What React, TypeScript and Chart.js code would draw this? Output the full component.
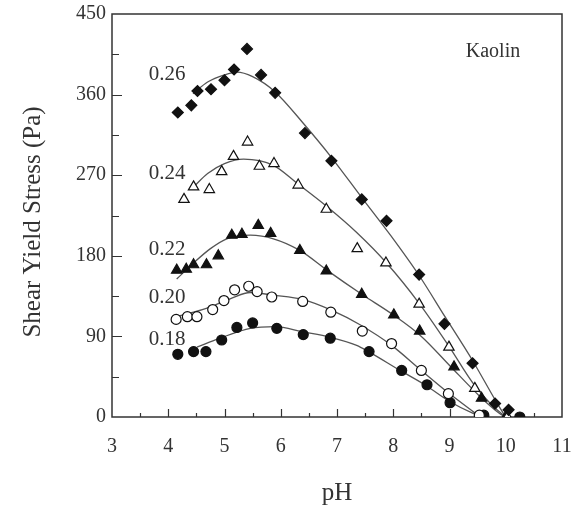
import React, { useEffect, useRef } from "react";
import { Chart, registerables } from "chart.js";

Chart.register(...registerables);

// Measured points (pH, shear yield stress in Pa)
const pH26 = [4.17, 4.41, 4.52, 4.76, 5.0, 5.17, 5.4, 5.65, 5.9, 6.43, 6.9, 7.44, 7.88, 8.46, 8.91, 9.41, 9.81, 10.05];
const tau26 = [340, 348, 364, 366, 376, 388, 411, 382, 362, 317, 286, 243, 219, 159, 104, 60, 15, 8];

const pH24 = [4.28, 4.45, 4.73, 4.95, 5.16, 5.41, 5.62, 5.88, 6.31, 6.81, 7.36, 7.87, 8.46, 8.99, 9.45, 10.03];
const tau24 = [243, 257, 254, 274, 291, 307, 280, 283, 259, 232, 188, 172, 126, 78, 32, 0];

const pH22 = [4.15, 4.32, 4.45, 4.68, 4.89, 5.13, 5.31, 5.6, 5.82, 6.34, 6.81, 7.44, 8.01, 8.47, 9.08, 9.57, 10.0];
const tau22 = [164, 165, 170, 170, 180, 203, 204, 214, 205, 186, 163, 137, 114, 96, 56, 21, 0];

const pH20 = [4.14, 4.34, 4.51, 4.79, 4.99, 5.18, 5.43, 5.58, 5.84, 6.39, 6.89, 7.45, 7.97, 8.5, 8.98, 9.53];
const tau20 = [109, 112, 112, 120, 130, 142, 146, 140, 134, 129, 117, 96, 82, 52, 26, 2];

const pH18 = [4.17, 4.45, 4.67, 4.95, 5.22, 5.5, 5.93, 6.4, 6.88, 7.57, 8.15, 8.6, 9.01, 9.61, 10.25];
const tau18 = [70, 73, 73, 86, 100, 105, 99, 92, 88, 73, 52, 36, 16, 2, 0];

// Fitted curves
const fitPH26 = [4.44, 4.7, 5.0, 5.22, 5.5, 5.9, 6.4, 6.9, 7.44, 7.95, 8.46, 8.92, 9.42, 9.85, 10.0];
const fitTau26 = [361, 374, 382, 385, 380, 363, 328, 290, 245, 203, 158, 112, 62, 15, 0];

const fitPH24 = [4.45, 4.7, 5.0, 5.34, 5.87, 6.29, 6.82, 7.35, 7.88, 8.46, 8.98, 9.45, 9.96, 10.02];
const fitTau24 = [257, 272, 283, 288, 281, 261, 235, 206, 172, 127, 80, 35, 2, 0];

const fitPH22 = [4.15, 4.45, 4.75, 5.04, 5.46, 5.87, 6.34, 6.82, 7.44, 8.0, 8.5, 9.01, 9.54, 9.89, 10.0];
const fitTau22 = [154, 172, 188, 199, 203, 199, 186, 164, 137, 114, 90, 57, 23, 4, 0];

const fitPH20 = [4.15, 4.45, 4.75, 5.1, 5.46, 5.87, 6.4, 6.91, 7.41, 7.97, 8.48, 8.98, 9.42, 9.55];
const fitTau20 = [112, 117, 123, 132, 139, 136, 131, 119, 103, 80, 53, 27, 6, 0];

const fitPH18 = [4.51, 4.92, 5.46, 5.9, 6.4, 6.88, 7.35, 7.56, 8.12, 8.56, 9.01, 9.42, 9.6];
const fitTau18 = [78, 88, 99, 101, 95, 89, 80, 73, 52, 36, 17, 4, 0];

const seriesLabels = ["0.26", "0.24", "0.22", "0.20", "0.18"];
const labelPH = 3.98;
const labelTau = [382, 272, 186.5, 133, 86];

const xMin = 3, xMax = 11, xStep = 1;
const yMin = 0, yMax = 450, yStep = 90;

const xTitle = "pH";
const yTitle = "Shear Yield Stress (Pa)";
const panelTitle = "Kaolin";

const toPts = (xs: number[], ys: number[]) => xs.map((x, i) => ({ x, y: ys[i] }));

const INK = "#111";
const TEXT = "#333";
const SERIF = "'Liberation Serif', 'Times New Roman', serif";

const markerSet = (
  data: { x: number; y: number }[],
  style: string,
  filled: boolean,
  radius: number
) => ({
  type: "scatter" as const,
  data,
  showLine: false,
  pointStyle: style,
  pointRadius: radius,
  pointHoverRadius: radius,
  pointBackgroundColor: filled ? INK : "#fff",
  pointBorderColor: INK,
  pointBorderWidth: 1.2,
  order: 1,
});

const curveSet = (data: { x: number; y: number }[]) => ({
  type: "scatter" as const,
  data,
  showLine: true,
  pointRadius: 0,
  pointHoverRadius: 0,
  borderColor: "#555",
  borderWidth: 1.3,
  cubicInterpolationMode: "monotone" as const,
  fill: false,
  order: 2,
});

const framePlugin = {
  id: "frame",
  beforeDatasetsDraw(chart: any) {
    const { ctx, chartArea: a, scales } = chart;
    const x = scales.x, y = scales.y;
    ctx.save();
    ctx.strokeStyle = "#333";
    ctx.lineWidth = 1.5;
    ctx.strokeRect(a.left, a.top, a.right - a.left, a.bottom - a.top);
    ctx.lineWidth = 1.2;
    ctx.beginPath();
    for (let v = xMin + 0.5; v < xMax; v += 0.5) {
      const px = Math.round(x.getPixelForValue(v)) + 0.5;
      const len = Number.isInteger(v) ? 8 : 4;
      ctx.moveTo(px, a.bottom);
      ctx.lineTo(px, a.bottom - len);
    }
    for (let v = yMin + yStep / 2; v < yMax; v += yStep / 2) {
      const py = Math.round(y.getPixelForValue(v)) + 0.5;
      const len = v % yStep === 0 ? 10 : 7;
      ctx.moveTo(a.left, py);
      ctx.lineTo(a.left + len, py);
    }
    ctx.stroke();
    ctx.restore();
  },
  afterDraw(chart: any) {
    const { ctx, chartArea: a, scales } = chart;
    const x = scales.x, y = scales.y;
    ctx.save();
    ctx.fillStyle = TEXT;
    ctx.textAlign = "center";
    ctx.textBaseline = "middle";
    ctx.font = `21px ${SERIF}`;
    seriesLabels.forEach((t, i) => {
      ctx.fillText(t, x.getPixelForValue(labelPH), y.getPixelForValue(labelTau[i]));
    });
    ctx.font = `20px ${SERIF}`;
    ctx.textBaseline = "alphabetic";
    ctx.fillText(panelTitle, a.right - 69, a.top + 43);
    ctx.font = `25px ${SERIF}`;
    ctx.fillText(xTitle, (a.left + a.right) / 2, 500);
    ctx.translate(40, 222);
    ctx.rotate(-Math.PI / 2);
    ctx.fillText(yTitle, 0, 0);
    ctx.restore();
  },
};

export default function App() {
  const ref = useRef<HTMLCanvasElement | null>(null);

  useEffect(() => {
    if (!ref.current) return;
    const chart = new Chart(ref.current, {
      type: "scatter",
      data: {
        datasets: [
          markerSet(toPts(pH26, tau26), "rectRot", true, 5.5),
          markerSet(toPts(pH24, tau24), "triangle", false, 6),
          markerSet(toPts(pH22, tau22), "triangle", true, 6),
          markerSet(toPts(pH20, tau20), "circle", false, 5),
          markerSet(toPts(pH18, tau18), "circle", true, 5),
          curveSet(toPts(fitPH26, fitTau26)),
          curveSet(toPts(fitPH24, fitTau24)),
          curveSet(toPts(fitPH22, fitTau22)),
          curveSet(toPts(fitPH20, fitTau20)),
          curveSet(toPts(fitPH18, fitTau18)),
        ] as any,
      },
      options: {
        animation: false,
        responsive: false,
        maintainAspectRatio: false,
        layout: { padding: { left: 0, top: 14, right: 20, bottom: 0 } },
        plugins: { legend: { display: false }, tooltip: { enabled: false } },
        scales: {
          x: {
            type: "linear",
            min: xMin,
            max: xMax,
            grid: { display: false, drawTicks: false },
            border: { display: false },
            ticks: {
              stepSize: xStep,
              padding: 18,
              color: TEXT,
              font: { family: SERIF, size: 20 },
            },
            afterFit: (s: any) => {
              s.height = 89;
              s.paddingLeft = 0;
              s.paddingRight = 0;
            },
          },
          y: {
            type: "linear",
            min: yMin,
            max: yMax,
            grid: { display: false, drawTicks: false },
            border: { display: false },
            ticks: {
              stepSize: yStep,
              padding: 6,
              color: TEXT,
              font: { family: SERIF, size: 20 },
            },
            afterFit: (s: any) => {
              s.width = 112;
              s.paddingTop = 0;
              s.paddingBottom = 0;
            },
          },
        },
      },
      plugins: [framePlugin],
    });
    return () => chart.destroy();
  }, []);

  return (
    <div style={{ position: "fixed", left: 0, top: 0, width: 582, height: 506, background: "#fff" }}>
      <canvas ref={ref} width={582} height={506} />
    </div>
  );
}
